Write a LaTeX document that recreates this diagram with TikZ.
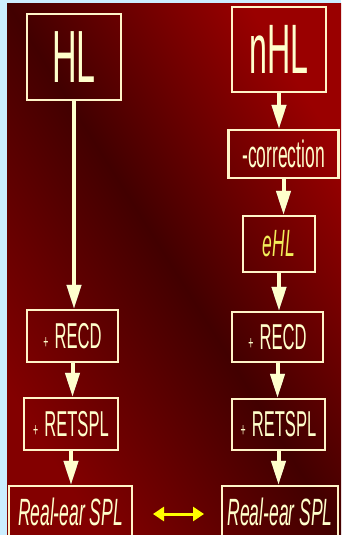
\documentclass[tikz,border=0pt]{standalone}
\usepackage{fontspec}
\setmainfont{Liberation Sans}[FakeStretch=0.46]
\usetikzlibrary{arrows.meta}
\definecolor{bgblue}{HTML}{CCEEFF}
\definecolor{redhi}{HTML}{9A0000}
\definecolor{redlo}{HTML}{420000}
\definecolor{cream}{HTML}{FFFFCC}
\definecolor{boxline}{HTML}{FFF4C8}
\definecolor{ehlyel}{HTML}{F2EE5A}
\definecolor{dyel}{HTML}{FFFF00}
\definecolor{shadowc}{HTML}{8890A8}
\tikzset{
  box/.style={draw=boxline, line width=2.5pt, text=cream, inner sep=0pt, anchor=center},
  flow/.style={draw=cream, line width=4pt, -{Triangle[length=24pt,width=14pt]}},
  flowshadow/.style={draw=shadowc, line width=4pt, -{Triangle[length=24pt,width=14pt]}, xshift=1.2pt},
  big/.style={font=\fontsize{74}{74}\selectfont},
  mid/.style={font=\fontsize{36}{36}\selectfont},
  ital/.style={font=\fontsize{38}{38}\selectfont\itshape},
}
\newcommand{\smallplus}{{\fontsize{19}{19}\selectfont+}\,}
\begin{document}
\begin{tikzpicture}[x=1pt,y=-1pt]
\useasboundingbox (0,0) rectangle (341,535);
\fill[bgblue] (0,0) rectangle (341,535);
\begin{scope}
\clip (7,4) rectangle (341,535);
\shade[top color=redhi, bottom color=redhi!85!black, middle color=redlo, shading angle=-58] (7,4) rectangle (341,535);

\node[box, big, minimum width=94pt, minimum height=86pt] (HL) at (74,57) {HL};
\node[box, big, font=\fontsize{70}{70}\selectfont, minimum width=94pt, minimum height=85pt] (nHL) at (279,49.5) {nHL};
\node[box, mid, font=\fontsize{38}{38}\selectfont, minimum width=110pt, minimum height=48pt] (corr) at (283.5,154) {-correction};
\node[box, ital, text=ehlyel, minimum width=72pt, minimum height=56pt] (eHL) at (279,244) {eHL};
\node[box, mid, minimum width=91pt, minimum height=52pt] (recdL) at (72.5,336) {\smallplus RECD};
\node[box, mid, minimum width=91pt, minimum height=50pt] (recdR) at (277.5,337) {\smallplus RECD};
\node[box, mid, minimum width=94pt, minimum height=52pt] (retL) at (71,424) {\smallplus RETSPL};
\node[box, mid, minimum width=93pt, minimum height=51pt] (retR) at (278.5,424.5) {\smallplus RETSPL};
\node[box, ital, minimum width=123pt, minimum height=52pt] (realL) at (70.5,512) {Real-ear SPL};
\node[box, ital, minimum width=116pt, minimum height=52pt] (realR) at (280,512) {Real-ear SPL};

\foreach \a/\b in {HL/recdL, recdL/retL, retL/realL, nHL/corr, corr/eHL, eHL/recdR, recdR/retR, retR/realR}{
  \draw[flowshadow] (\a.south) -- (\a.south |- \b.north);
  \draw[flow] (\a.south) -- (\a.south |- \b.north);
}
\coordinate (dl) at (153,514);
\coordinate (dr) at (204,514);
\draw[dyel, line width=3pt, {Triangle[length=11pt,width=14pt]}-{Triangle[length=11pt,width=14pt]}] (dl) -- (dr);
\end{scope}
\end{tikzpicture}
\end{document}
